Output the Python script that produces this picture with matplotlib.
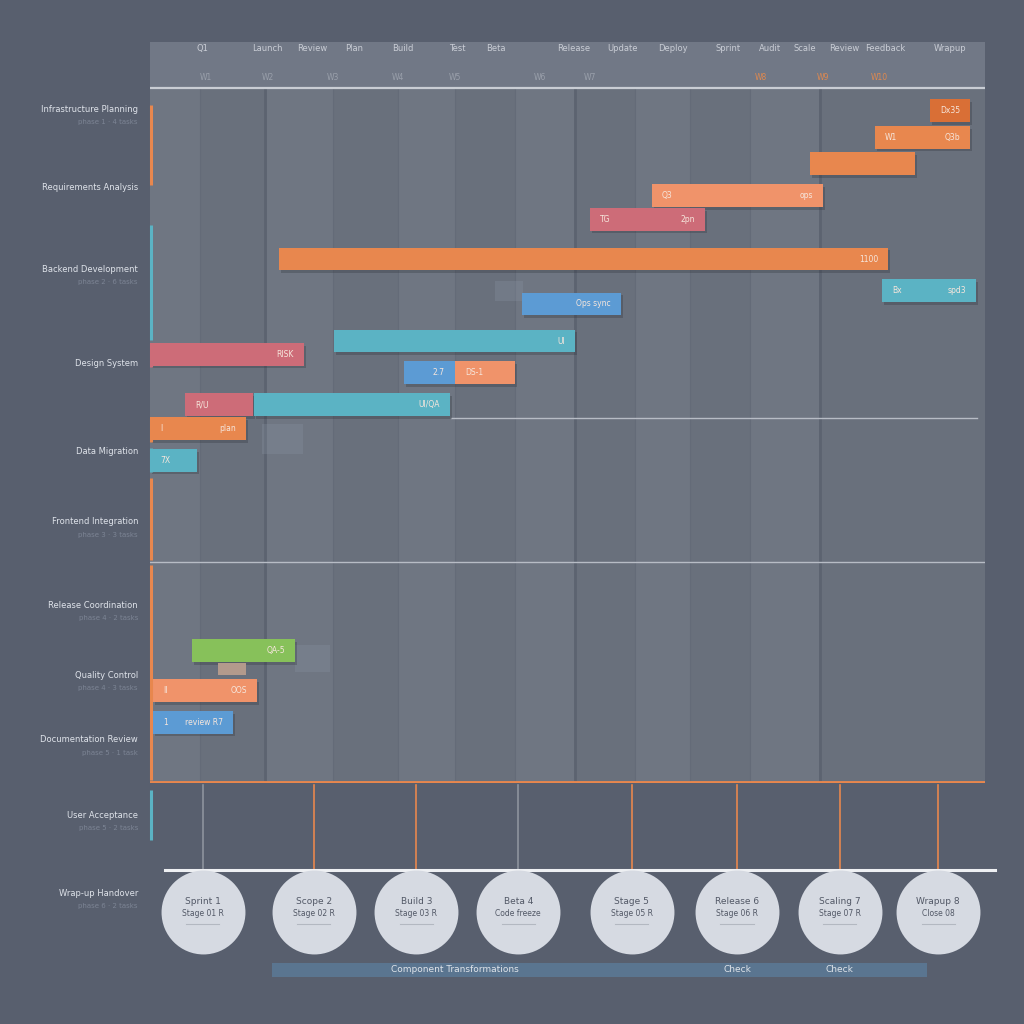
import numpy as np
import matplotlib
matplotlib.use("Agg")
import matplotlib.pyplot as plt
import matplotlib.patheffects as pe

# --- data ---
# gantt tasks: lane (row), start week, duration, colour key, left/right tags
task_lane  = [2.6, 3.6, 4.6, 5.8, 6.7, 8.2, 9.4, 9.9, 11.3, 11.8, 12.5, 12.5,
              13.7, 13.7, 14.6, 15.8, 23.0, 24.5, 25.7]
task_start = [93.4, 86.8, 79.0, 60.1, 52.7, 15.4, 87.7, 44.6, 22.0, 0.0, 30.4, 36.5,
              4.2, 12.5, 0.0, 0.0, 5.0, 0.4, 0.4]
task_dur   = [4.8, 11.4, 12.6, 20.5, 13.8, 73.0, 11.2, 11.8, 28.9, 18.4, 6.1, 7.2,
              8.1, 23.4, 11.5, 5.6, 12.4, 12.4, 9.5]
task_color = ["dorange", "orange", "orange", "salmon", "pink", "orange", "teal", "blue",
              "teal", "pink", "blue", "salmon", "pink", "teal", "orange", "teal",
              "green", "salmon", "blue"]
task_left  = ["", "W1", "", "Q3", "TG", "", "Bx", "", "", "", "", "DS-1",
              "R/U", "", "I", "7X", "", "II", "1"]
task_right = ["Dx35", "Q3b", "", "ops", "2pn", "1100", "spd3", "Ops sync",
              "UI", "RISK", "2.7", "", "", "UI/QA", "plan", "", "QA-5", "OOS", "review R7"]

# small buffer block under green task
buffer_lane, buffer_start, buffer_dur = 23.7, 8.1, 3.4

# column grid (weeks)
col_edges = [0, 6.0, 13.8, 21.9, 29.7, 36.5, 43.7, 50.9, 58.1, 64.7, 71.9, 80.2, 100]
dark_cols = [13.8, 50.9, 80.2]

# header labels
head_x    = [6.3, 14.0, 19.4, 24.4, 30.3, 36.8, 41.4, 50.8, 56.6, 62.6, 69.2, 74.3,
             78.4, 83.2, 88.1, 95.8]
head_text = ["Q1", "Launch", "Review", "Plan", "Build", "Test", "Beta", "Release",
             "Update", "Deploy", "Sprint", "Audit", "Scale", "Review", "Feedback", "Wrapup"]
sub_x     = [6.7, 14.1, 21.9, 29.7, 36.5, 46.7, 52.7, 73.1, 80.6, 87.4]
sub_text  = ["W1", "W2", "W3", "W4", "W5", "W6", "W7", "W8", "W9", "W10"]
sub_hot   = [False, False, False, False, False, False, False, True, True, True]

# left row labels (figure pixel rows)
row_names = ["Infrastructure Planning", "Requirements Analysis", "Backend Development",
             "Design System", "Data Migration", "Frontend Integration",
             "Release Coordination", "Quality Control", "Documentation Review",
             "User Acceptance", "Wrap-up Handover"]
row_subs  = ["phase 1 · 4 tasks", "", "phase 2 · 6 tasks", "", "", "phase 3 · 3 tasks",
             "phase 4 · 2 tasks", "phase 4 · 3 tasks", "phase 5 · 1 task",
             "phase 5 · 2 tasks", "phase 6 · 2 tasks"]

# milestones
ms_x      = [6.3, 19.6, 31.9, 44.1, 57.7, 70.3, 82.6, 94.4]
ms_title  = ["Sprint 1", "Scope 2", "Build 3", "Beta 4", "Stage 5", "Release 6",
             "Scaling 7", "Wrapup 8"]
ms_sub    = ["Stage 01 R", "Stage 02 R", "Stage 03 R", "Code freeze", "Stage 05 R",
             "Stage 06 R", "Stage 07 R", "Close 08"]
ms_hot    = [False, True, True, False, True, True, True, True]

band_labels = ["Component Transformations", "Check", "Check"]
band_x      = [36.5, 70.3, 82.6]

# --- style ---
BG = "#585f6e"
PLOT = "#6c7380"
COLORS = {"orange": "#e8874e", "dorange": "#d96f36", "salmon": "#f0936a",
          "pink": "#cd6c78", "teal": "#5bb3c4", "blue": "#5c9bd4", "green": "#87c15a"}

fig = plt.figure(figsize=(10.24, 10.24), dpi=100, facecolor=BG)

# main gantt axes
ax = fig.add_axes([150/1024, 1 - 783/1024, 835/1024, 741/1024])
ax.set_facecolor(PLOT)
ax.set_xlim(0, 100)
ax.set_ylim(28, 0)
for s in ax.spines.values():
    s.set_visible(False)
ax.set_xticks([])
ax.set_yticks([])

# alternating column shading
for i in range(len(col_edges) - 1):
    shade = "#ffffff" if i % 2 == 0 else "#000000"
    ax.axvspan(col_edges[i], col_edges[i + 1], color=shade, alpha=0.025, lw=0)
for e in col_edges[1:-1]:
    ax.axvline(e, color="#646b78", lw=0.8, zorder=1)
for e in dark_cols:
    ax.axvline(e, color="#5c6370", lw=2.0, zorder=1)

# header
ax.axhspan(0, 1.74, color="#717886", lw=0, zorder=1)
ax.axhline(1.74, color="#c9cdd4", lw=1.6, zorder=2)
for x, t in zip(head_x, head_text):
    ax.text(x, 0.25, t, ha="center", va="center", fontsize=6, color="#c9cdd5", zorder=3)
for x, t, hot in zip(sub_x, sub_text, sub_hot):
    ax.text(x, 1.33, t, ha="center", va="center", fontsize=5.5,
            color="#e0894f" if hot else "#9aa0ab", zorder=3)

# separators
ax.plot([36, 99], [14.2, 14.2], color="#b7bcc5", lw=1, zorder=2)
ax.plot([0, 100], [19.65, 19.65], color="#b7bcc5", lw=1, zorder=2)
ax.axhline(28, color="#e8874e", lw=3.5, zorder=5)

# faint ghost blocks
ghosts = [(41.3, 9.4, 3.4, 0.75), (13.4, 15.0, 4.9, 1.1), (17.4, 23.3, 4.2, 1.0)]
for gx, gy, gw, gh in ghosts:
    ax.barh(gy, gw, left=gx, height=gh, color="#8e98a8", alpha=0.25, lw=0, zorder=2)

# bars
shadow = [pe.SimplePatchShadow(offset=(1.5, -2), shadow_rgbFace="#30343c", alpha=0.3), pe.Normal()]
for lane, st, du, ck, lt, rt in zip(task_lane, task_start, task_dur, task_color, task_left, task_right):
    b = ax.barh(lane, du, left=st, height=0.86, color=COLORS[ck], lw=0, zorder=4)
    b[0].set_path_effects(shadow)
    if lt:
        ax.text(st + 1.2, lane, lt, ha="left", va="center", fontsize=5.5, color="#f6e6dc", zorder=6)
    if rt:
        ax.text(st + du - 1.2, lane, rt, ha="right", va="center", fontsize=5.5, color="#f6e6dc", zorder=6)
ax.barh(buffer_lane, buffer_dur, left=buffer_start, height=0.45, color="#b39a8c", lw=0, zorder=4)

# bottom milestone axes
bx = fig.add_axes([150/1024, 1 - 1000/1024, 835/1024, 217/1024])
bx.set_xlim(0, 100)
bx.set_ylim(217, 0)
bx.axis("off")
for x, hot in zip(ms_x, ms_hot):
    bx.plot([x, x], [2, 86], color="#e8874e" if hot else "#8d939e", lw=1.2, zorder=1)
bx.plot([1.8, 101.2], [87, 87], color="#eef0f3", lw=2.2, clip_on=False, zorder=2)
bx.scatter(ms_x, [129] * len(ms_x), s=3650, color="#d6dae2", lw=0, zorder=3, clip_on=False)
for x, t, s in zip(ms_x, ms_title, ms_sub):
    bx.text(x, 118, t, ha="center", va="center", fontsize=6.5, color="#525866", zorder=4)
    bx.text(x, 131, s, ha="center", va="center", fontsize=5.5, color="#525866", zorder=4)
    bx.plot([x - 2, x + 2], [141, 141], color="#b3b8c1", lw=0.8, zorder=4)
bx.barh(187, 78.5, left=14.6, height=14, color="#5a7590", lw=0, zorder=1)
for x, t in zip(band_x, band_labels):
    bx.text(x, 187, t, ha="center", va="center", fontsize=6.5, color="#dfe4ea", zorder=2)

# left rail segments and row labels (figure overlay)
ov = fig.add_axes([0, 0, 1, 1], facecolor="none")
ov.set_xlim(0, 1024)
ov.set_ylim(1024, 0)
ov.axis("off")
rail = [(105, 185, "orange"), (225, 340, "teal"), (343, 367, "pink"), (418, 442, "orange"),
        (448, 472, "teal"), (478, 560, "orange"), (565, 780, "orange"), (790, 840, "teal")]
for y0, y1, ck in rail:
    ov.plot([151, 151], [y0, y1], color=COLORS[ck], lw=2.2, solid_capstyle="butt")

row_y = [109, 187, 269, 364, 452, 522, 605, 675, 740, 815, 893]
for y, name, sub in zip(row_y, row_names, row_subs):
    ov.text(138, y, name, ha="right", va="center", fontsize=6, color="#dfe3ea")
    if sub:
        ov.text(138, y + 13, sub, ha="right", va="center", fontsize=5, color="#7c8494")

fig.savefig("out.png", dpi=100, facecolor=BG)
